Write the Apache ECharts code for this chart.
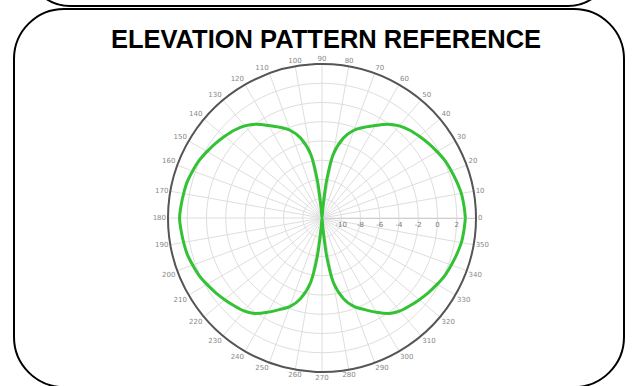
<!DOCTYPE html>
<html>
<head>
<meta charset="utf-8">
<title>Elevation pattern reference</title>
<script src="https://cdn.jsdelivr.net/npm/echarts@6/dist/echarts.min.js"></script>
<style>
    html, body { margin: 0; padding: 0; background: #fff; }
    #chart { width: 638px; height: 386px; }
</style>
</head>
<body>
<div id="chart"></div>
<script>
// elevation angle (deg) and relative gain (dB)
const angleDeg = [
    0, 5, 10, 15, 20, 25, 30, 35, 40, 45, 50, 55, 60, 65, 70, 75, 80, 83, 85, 87,
    90, 93, 95, 97, 100, 105, 110, 115, 120, 125, 130, 135, 140, 145, 150, 155, 160, 165, 170, 175,
    180, 185, 190, 195, 200, 205, 210, 215, 220, 225, 230, 235, 240, 245, 250, 255, 260, 263, 265, 267,
    270, 273, 275, 277, 280, 285, 290, 295, 300, 305, 310, 315, 320, 325, 330, 335, 340, 345, 350, 355,
    360
]
const gainDb = [
    2.9, 2.8, 2.7, 2.5, 2.3, 2.1, 1.8, 1.5, 1.2, 0.9, 0.5, -0.1, -0.9, -1.6, -2.3, -3.4, -5.3, -8.1, -10.9, -12,
    -12, -12, -10.9, -8.1, -5.3, -3.4, -2.3, -1.6, -0.9, -0.1, 0.5, 0.9, 1.2, 1.5, 1.8, 2.1, 2.3, 2.5, 2.6, 2.7,
    2.8, 2.7, 2.6, 2.5, 2.3, 2.1, 1.8, 1.5, 1.2, 0.9, 0.6, 0.1, -0.7, -1.5, -2.2, -3.3, -5.2, -8.0, -10.9, -12,
    -12, -12, -10.9, -8.0, -5.2, -3.3, -2.2, -1.5, -0.7, 0.1, 0.6, 0.9, 1.2, 1.5, 1.8, 2.1, 2.3, 2.5, 2.7, 2.8,
    2.9
]
const radiusTicks = { min: -12, max: 4, step: 2 }
const angleTicks = { min: 0, max: 360, step: 10 }
const titleText = 'ELEVATION PATTERN REFERENCE'

const chart = echarts.init(document.getElementById('chart'), null, { renderer: 'svg' })

const option = {
    backgroundColor: '#fff',
    animation: false,
    graphic: [
        {
            // box above, only its lower edge is visible
            type: 'rect',
            shape: { x: 27, y: -80, width: 584, height: 86, r: 43 },
            style: { fill: 'none', stroke: '#000', lineWidth: 2 }
        },
        {
            type: 'rect',
            shape: { x: 14, y: 9, width: 610, height: 378, r: 50 },
            style: { fill: 'none', stroke: '#000', lineWidth: 2 }
        },
        {
            type: 'text',
            x: 326,
            y: 39,
            style: {
                text: titleText,
                fill: '#000',
                font: 'bold 25.5px "Liberation Sans"',
                textAlign: 'center',
                textVerticalAlign: 'middle'
            }
        }
    ],
    polar: {
        center: [322, 218],
        radius: 154
    },
    angleAxis: {
        type: 'value',
        min: angleTicks.min,
        max: angleTicks.max,
        interval: angleTicks.step,
        startAngle: 0,
        clockwise: false,
        axisLine: {
            lineStyle: { color: '#555', width: 2 }
        },
        axisTick: { show: false },
        axisLabel: {
            margin: 2,
            fontSize: 7,
            fontFamily: 'DejaVu Sans',
            color: '#888',
            formatter: v => (v === 360 ? '' : String(v))
        },
        splitLine: {
            lineStyle: { color: '#dedede', width: 1 }
        }
    },
    radiusAxis: {
        type: 'value',
        min: radiusTicks.min,
        max: radiusTicks.max,
        interval: radiusTicks.step,
        axisLine: {
            lineStyle: { color: '#cfcfcf' }
        },
        axisTick: { show: false },
        axisLabel: {
            margin: -10,
            fontSize: 7,
            fontFamily: 'DejaVu Sans',
            color: '#777',
            showMinLabel: false,
            showMaxLabel: false
        },
        splitLine: {
            show: true,
            lineStyle: { color: '#dedede', width: 1 }
        }
    },
    series: [
        {
            type: 'line',
            coordinateSystem: 'polar',
            showSymbol: false,
            smooth: 0.3,
            lineStyle: { color: '#33c233', width: 3 },
            data: angleDeg.map((a, i) => [gainDb[i], a])
        }
    ]
}

chart.setOption(option)
</script>
</body>
</html>
